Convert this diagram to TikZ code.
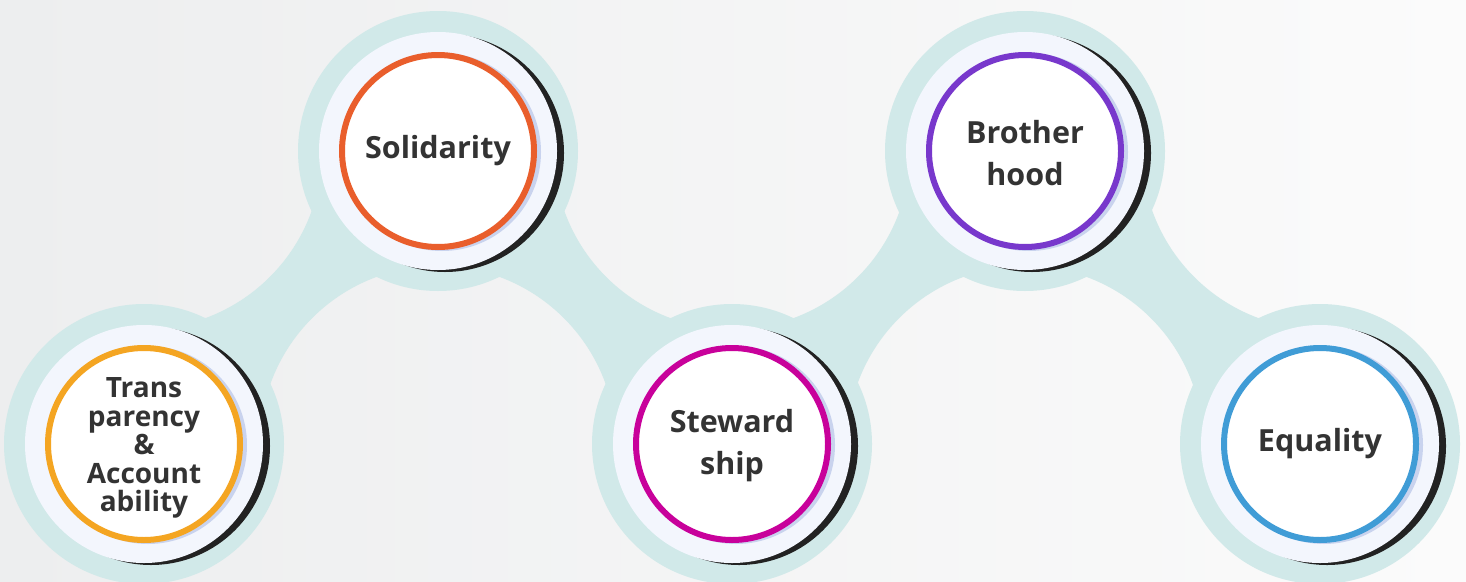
\documentclass[tikz,border=0pt]{standalone}
\usepackage{fontspec}
\setmainfont{Open Sans}
\definecolor{bgL}{HTML}{EDEEEF}
\definecolor{bgR}{HTML}{FBFBFB}
\definecolor{tealC}{HTML}{D1E9E9}
\definecolor{paleC}{HTML}{F3F6FD}
\definecolor{lavC}{HTML}{C9D3EE}
\definecolor{shadC}{HTML}{222222}
\definecolor{txtC}{HTML}{333333}
\definecolor{cOrange}{HTML}{E95E2C}
\definecolor{cYellow}{HTML}{F4A522}
\definecolor{cMagenta}{HTML}{C8019B}
\definecolor{cPurple}{HTML}{7838CC}
\definecolor{cBlue}{HTML}{409CD6}
\begin{document}
\begin{tikzpicture}[x=1pt,y=-1pt,
  ring/.style={circle, draw=#1, line width=6pt, fill=white, minimum size=192pt,
    inner sep=0pt, align=center, text=txtC,
    font=\fontsize{30.5}{42}\selectfont\bfseries},
  label/.style={align=center, text=txtC, font=\fontsize{30.5}{42}\selectfont\bfseries},
  smalltext/.style={font=\fontsize{28}{28.6}\selectfont\bfseries},
  band/.style={fill=tealC, even odd rule},
]
\useasboundingbox (0,0) rectangle (1466,581);
\shade[left color=bgL, right color=bgR] (0,0) rectangle (1466,581);
\coordinate (p1) at (144,444);
\coordinate (p2) at (438,151);
\coordinate (p3) at (732,444);
\coordinate (p4) at (1025,151);
\coordinate (p5) at (1320,444);
% connecting bands
\foreach \a/\b in {p1/p2,p2/p3,p3/p4,p4/p5}{
  \begin{scope}
    \clip (\a) rectangle (\b);
    \path[band] (-100,-100) rectangle (1566,681)
      (\a |- \b) circle[radius=178]
      (\a -| \b) circle[radius=178];
  \end{scope}
}
% halo circles
\foreach \p in {p1,p2,p3,p4,p5}{
  \fill[tealC] (\p) circle[radius=140];
}
\foreach \p in {p1,p2,p3,p4,p5}{
  \fill[shadC] ([shift={(7,2)}]\p) circle[radius=119];
  \fill[paleC] (\p) circle[radius=119];
  \draw[lavC, line width=6pt] ([shift={(4,1)}]\p) circle[radius=96];
}
% labelled rings
\node[ring=cYellow] (n1) at (p1) {};
\node[ring=cOrange] (n2) at (p2) {Solidarity};
\node[ring=cMagenta] (n3) at (p3) {};
\node[ring=cPurple] (n4) at (p4) {};
\node[ring=cBlue] (n5) at (p5) {Equality};
\node[label, smalltext] (t1) at ([yshift=-4pt]n1.center) {Trans\\parency\\\&\\Account\\ability};
\node[label] (t3) at ([yshift=-2pt]n3.center) {Steward\\ship};
\node[label] (t4) at ([yshift=-2pt]n4.center) {Brother\\hood};
\end{tikzpicture}
\end{document}
